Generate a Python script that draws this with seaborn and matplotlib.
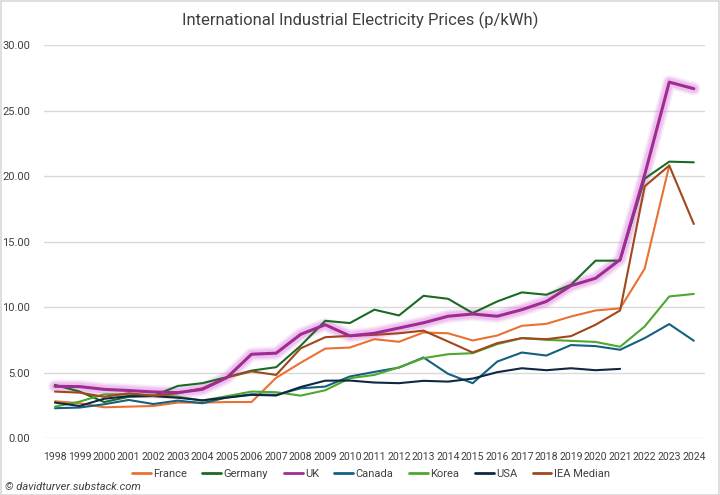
import matplotlib
matplotlib.use("Agg")
import matplotlib.pyplot as plt
import matplotlib.patches as mpatches
from matplotlib.lines import Line2D
import numpy as np
import pandas as pd
import seaborn as sns

years = list(range(1998, 2025))

france = [2.81, 2.66, 2.35, 2.40, 2.45, 2.71, 2.71, 2.75, 2.75, 4.60, 5.75, 6.83, 6.91, 7.55, 7.35, 8.06, 8.00, 7.45, 7.83, 8.57, 8.72, 9.28, 9.74, 9.90, 12.93, 20.80, None]
germany = [4.06, 3.55, 2.75, 3.15, 3.22, 3.98, 4.19, 4.65, 5.15, 5.41, 7.05, 8.95, 8.78, 9.80, 9.36, 10.86, 10.63, 9.54, 10.43, 11.12, 10.94, 11.70, 13.54, 13.54, 19.80, 21.10, 21.05]
uk = [3.95, 3.93, 3.72, 3.63, 3.52, 3.47, 3.72, 4.62, 6.40, 6.48, 7.92, 8.65, 7.80, 8.00, 8.40, 8.80, 9.30, 9.47, 9.30, 9.80, 10.43, 11.63, 12.20, 13.62, 20.10, 27.17, 26.67]
canada = [2.28, 2.33, 2.58, 2.91, 2.60, 2.86, 2.66, 3.10, 3.34, 3.30, 3.80, 3.93, 4.70, 5.05, 5.38, 6.15, 4.90, 4.19, 5.84, 6.53, 6.30, 7.10, 7.02, 6.74, 7.63, 8.70, 7.43]
korea = [2.40, 2.78, 3.34, 3.34, 3.29, 3.16, 2.86, 3.20, 3.55, 3.50, 3.24, 3.65, 4.57, 4.82, 5.40, 6.10, 6.40, 6.48, 7.17, 7.63, 7.50, 7.42, 7.34, 6.97, 8.52, 10.81, 11.00]
usa = [2.71, 2.45, 3.00, 3.20, 3.20, 3.08, 2.88, 3.09, 3.30, 3.25, 3.90, 4.38, 4.39, 4.24, 4.19, 4.37, 4.31, 4.54, 5.03, 5.33, 5.18, 5.33, 5.18, 5.28, None, None, None]
iea_median = [3.55, 3.47, 3.15, 3.42, 3.22, 3.42, 3.80, 4.63, 5.09, 4.82, 6.85, 7.70, 7.80, 7.88, 8.00, 8.20, 7.37, 6.53, 7.25, 7.63, 7.55, 7.78, 8.65, 9.74, 19.22, 20.80, 16.34]

series_names = ["France", "Germany", "UK", "Canada", "Korea", "USA", "IEA Median"]
series_values = [france, germany, uk, canada, korea, usa, iea_median]
colors = {
    "France": "#E97132",
    "Germany": "#196B24",
    "UK": "#A02B93",
    "Canada": "#156082",
    "Korea": "#4EA72E",
    "USA": "#0E2841",
    "IEA Median": "#A0471C",
}

rows = []
for name, vals in zip(series_names, series_values):
    for y, v in zip(years, vals):
        rows.append({"Year": y, "Series": name, "Price": np.nan if v is None else v})
df = pd.DataFrame(rows)

sns.set_theme(style="white")
plt.rcParams['font.family'] = ['Liberation Sans Narrow', 'Roboto', 'DejaVu Sans']

fig = plt.figure(figsize=(7.2, 4.95), dpi=100)
ax = fig.add_axes([0.061, 0.115, 0.918, 0.794])

# glow under UK line
uk_df = df[df["Series"] == "UK"]
for lw, a in [(10, 0.12), (8, 0.18), (6, 0.25)]:
    sns.lineplot(data=uk_df, x="Year", y="Price", ax=ax, color="#DC7BDC",
                 linewidth=lw, alpha=a, legend=False, zorder=2,
                 solid_capstyle="round", solid_joinstyle="round")

for name in series_names:
    sub = df[df["Series"] == name]
    lw = 2.2 if name == "UK" else 1.5
    sns.lineplot(data=sub, x="Year", y="Price", ax=ax, color=colors[name],
                 linewidth=lw, legend=False, zorder=3 if name != "UK" else 4)

ax.set_xlim(years[0] - 0.45, years[-1] + 0.45)
ax.set_ylim(0, 30)
ax.set_yticks(np.arange(0, 30.01, 5))
ax.set_yticklabels([f"{v:.2f}" for v in np.arange(0, 30.01, 5)], fontsize=8, color="#404040")
ax.set_xticks(years)
ax.set_xticklabels([str(y) for y in years], fontsize=7.6, color="#404040")
ax.tick_params(axis="x", length=0, pad=10)
ax.tick_params(axis="y", length=0, pad=10)
ax.grid(axis="y", color="#D9D9D9", linewidth=1)
ax.grid(axis="x", visible=False)
for s in ax.spines.values():
    s.set_visible(False)
ax.set_xlabel("")
ax.set_ylabel("")

fig.text(0.5, 0.958, "International Industrial Electricity Prices (p/kWh)",
         ha="center", va="center", fontsize=12, color="#404040")

handles = [Line2D([0], [0], color=colors[n], linewidth=2) for n in series_names]
fig.legend(handles, series_names, loc="center", bbox_to_anchor=(0.515, 0.042),
           ncol=7, frameon=False, fontsize=8, handlelength=1.7, columnspacing=1.4,
           handletextpad=0.2, labelcolor="#404040")

fig.text(0.007, 0.016, "© davidturver.substack.com", ha="left", va="center",
         fontsize=8, style="italic", color="#404040")

fig.patches.append(mpatches.Rectangle((0.001, 0.001), 0.998, 0.997, transform=fig.transFigure,
                                      fill=False, edgecolor="#D9D9D9", linewidth=1.2))

fig.savefig("out.png", dpi=100)
